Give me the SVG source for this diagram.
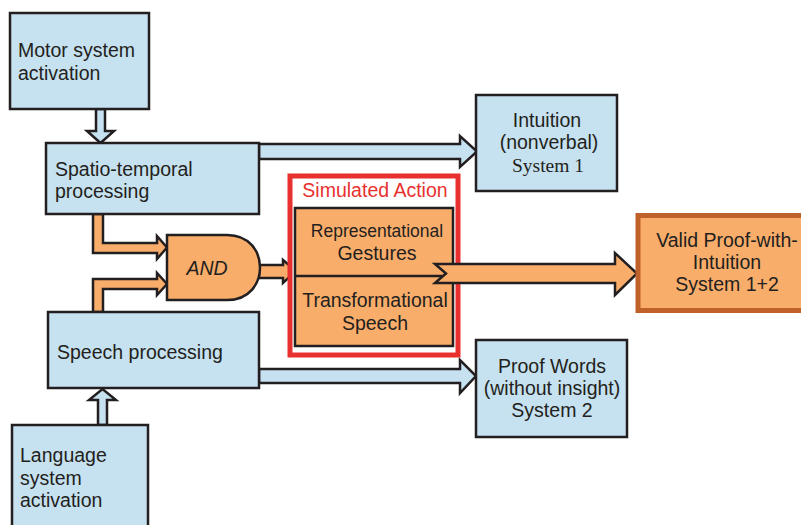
<svg xmlns="http://www.w3.org/2000/svg" width="801" height="525" viewBox="0 0 801 525">
<style>
.blue{fill:#c6e1ef;stroke:#231f20;stroke-width:2.5}
.org{fill:#f9ad6a;stroke:#231f20;stroke-width:2.5}
.t{font-family:"Liberation Sans",Arial,sans-serif;font-size:19.5px;fill:#231f20}
.s{font-family:"Liberation Serif","Times New Roman",serif;font-size:19.5px;fill:#231f20}
.m{text-anchor:middle}
</style>
<rect width="801" height="525" fill="#ffffff"/>
<g id="connectors">
<path class="blue" d="M96,109 L96,131 L87,131 L100.5,143 L114,131 L105,131 L105,109 Z"/>
<path class="blue" d="M98,425 L98,400 L89,400 L102.5,389 L116,400 L107,400 L107,425 Z"/>
<path class="blue" d="M259,144 L460,144 L460,136 L477,151.5 L460,167 L460,159 L259,159 Z"/>
<path class="blue" d="M259,369 L460,369 L460,360 L476,376 L460,393 L460,383 L259,383 Z"/>
<path class="org" d="M93,214 L93,253 L157,253 L157,259 L167,247.5 L157,236 L157,243 L103,243 L103,214 Z"/>
<path class="org" d="M93,312 L93,279 L157,279 L157,273 L167,284 L157,295 L157,289 L103,289 L103,312 Z"/>
<path class="org" d="M259,265 L283,265 L283,260 L296,271 L283,283 L283,278 L259,278 Z"/>
</g>
<g id="motor">
<rect class="blue" x="10" y="13" width="139" height="96"/>
<text class="t" x="18" y="57">Motor system</text>
<text class="t" x="18" y="80">activation</text>
</g>
<g id="spatio">
<rect class="blue" x="46" y="143" width="213" height="71"/>
<text class="t" x="55" y="176">Spatio-temporal</text>
<text class="t" x="55" y="198">processing</text>
</g>
<g id="speech">
<rect class="blue" x="48" y="312" width="211" height="76"/>
<text class="t" x="57" y="359">Speech processing</text>
</g>
<g id="language">
<rect class="blue" x="12" y="425" width="136" height="110"/>
<text class="t" x="20" y="462">Language</text>
<text class="t" x="20" y="485">system</text>
<text class="t" x="20" y="507">activation</text>
</g>
<g id="and">
<path class="org" d="M167,235 L227,235 C250,235 260,252 260,267.5 C260,283 250,300 227,300 L167,300 Z"/>
<text class="t m" x="207" y="275" font-style="italic">AND</text>
</g>
<g id="simulated">
<rect x="290" y="176" width="168" height="179" fill="#ffffff" stroke="#e8312f" stroke-width="5"/>
<text class="t m" x="375" y="197" style="fill:#e8312f">Simulated Action</text>
<rect class="org" x="295" y="208" width="158" height="138"/>
<line x1="295" y1="276" x2="453" y2="276" stroke="#231f20" stroke-width="2.5"/>
<text class="t m" x="377" y="237" style="font-size:17.5px">Representational</text>
<text class="t m" x="377" y="260">Gestures</text>
<text class="t m" x="375" y="307">Transformational</text>
<text class="t m" x="375" y="330">Speech</text>
</g>
<g id="bigarrow">
<path class="org" d="M435,264 L615,264 L615,253 L637,273.5 L615,295 L615,283 L435,283 L446,273.5 Z"/>
</g>
<g id="valid">
<rect x="638" y="215.5" width="170" height="95" fill="#f9ad6a" stroke="#c0602a" stroke-width="5"/>
<text class="t m" x="727" y="247">Valid Proof-with-</text>
<text class="t m" x="727" y="269">Intuition</text>
<text class="t m" x="727" y="291">System 1+2</text>
</g>
<g id="intuition">
<rect class="blue" x="476" y="95" width="141" height="96"/>
<text class="t m" x="547" y="127">Intuition</text>
<text class="t m" x="549" y="149">(nonverbal)</text>
<text class="s m" x="548" y="172">System 1</text>
</g>
<g id="proof">
<rect class="blue" x="476" y="340" width="151" height="97"/>
<text class="t m" x="552" y="373">Proof Words</text>
<text class="t m" x="552" y="395">(without insight)</text>
<text class="t m" x="552" y="417">System 2</text>
</g>
</svg>
